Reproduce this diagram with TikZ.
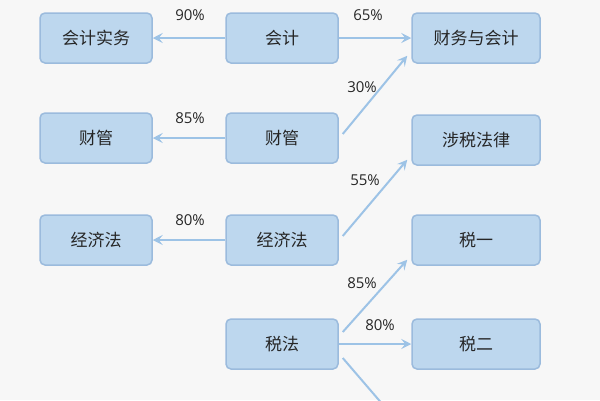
\documentclass[tikz,border=0pt]{standalone}
\usepackage{fontspec}
\newfontfamily\cjk{Noto Sans CJK SC}
\setmainfont{Open Sans}
\usetikzlibrary{arrows.meta}
\definecolor{bfill}{HTML}{BDD7EE}
\definecolor{bdraw}{HTML}{9BBBDD}
\definecolor{arr}{HTML}{9DC3E6}
\definecolor{bg}{HTML}{F7F7F7}
\tikzset{
  box/.style={draw=bdraw,line width=1.5pt,fill=bfill,rounded corners=5pt,minimum height=50pt,font=\cjk\fontsize{17}{17}\selectfont,text=black!85},
  sbox/.style={box,minimum width=112pt},
  wbox/.style={box,minimum width=128pt},
  con/.style={draw=arr,line width=2pt,-{Stealth[length=10pt,width=10pt,inset=4pt]}},
  pct/.style={font=\fontsize{15}{15}\selectfont,text=black!85}
}
\begin{document}
\begin{tikzpicture}[x=1pt,y=-1pt]
\fill[bg] (0,0) rectangle (600,400);
\useasboundingbox (0,0) rectangle (600,400);
\node[sbox] (L1) at (96,38) {会计实务};
\node[sbox] (L2) at (96,138) {财管};
\node[sbox] (L3) at (96,240) {经济法};
\node[sbox] (M1) at (282,38) {会计};
\node[sbox] (M2) at (282,138) {财管};
\node[sbox] (M3) at (282,240) {经济法};
\node[sbox] (M4) at (282,344) {税法};
\node[wbox] (R1) at (476,38) {财务与会计};
\node[wbox] (R2) at (476,140) {涉税法律};
\node[wbox] (R3) at (476,240) {税一};
\node[wbox] (R4) at (476,344) {税二};
\coordinate (E) at (384,406);
\draw[con] (M1) -- (L1);
\draw[con] (M1) -- (R1);
\draw[con] (M2) -- (L2);
\draw[con] (M3) -- (L3);
\draw[con] (M4) -- (R4);
\draw[con] (M2.east) ++(4,-4) -- ([xshift=-4pt,yshift=8pt]R1.south west);
\draw[con] (M3.east) ++(4,-4) -- ([xshift=-4pt,yshift=6pt]R2.south west);
\draw[con] (M4.east) ++(4,-12) -- ([xshift=-4pt,yshift=6pt]R3.south west);
\draw[draw=arr,line width=2pt] (M4.east) ++(4,14) -- (E);
\node[pct] at (190,15) {90\%};
\node[pct] at (368,15) {65\%};
\node[pct] at (190,118) {85\%};
\node[pct] at (362,87) {30\%};
\node[pct] at (190,220) {80\%};
\node[pct] at (365,180) {55\%};
\node[pct] at (362,283) {85\%};
\node[pct] at (380,325) {80\%};
\end{tikzpicture}
\end{document}
